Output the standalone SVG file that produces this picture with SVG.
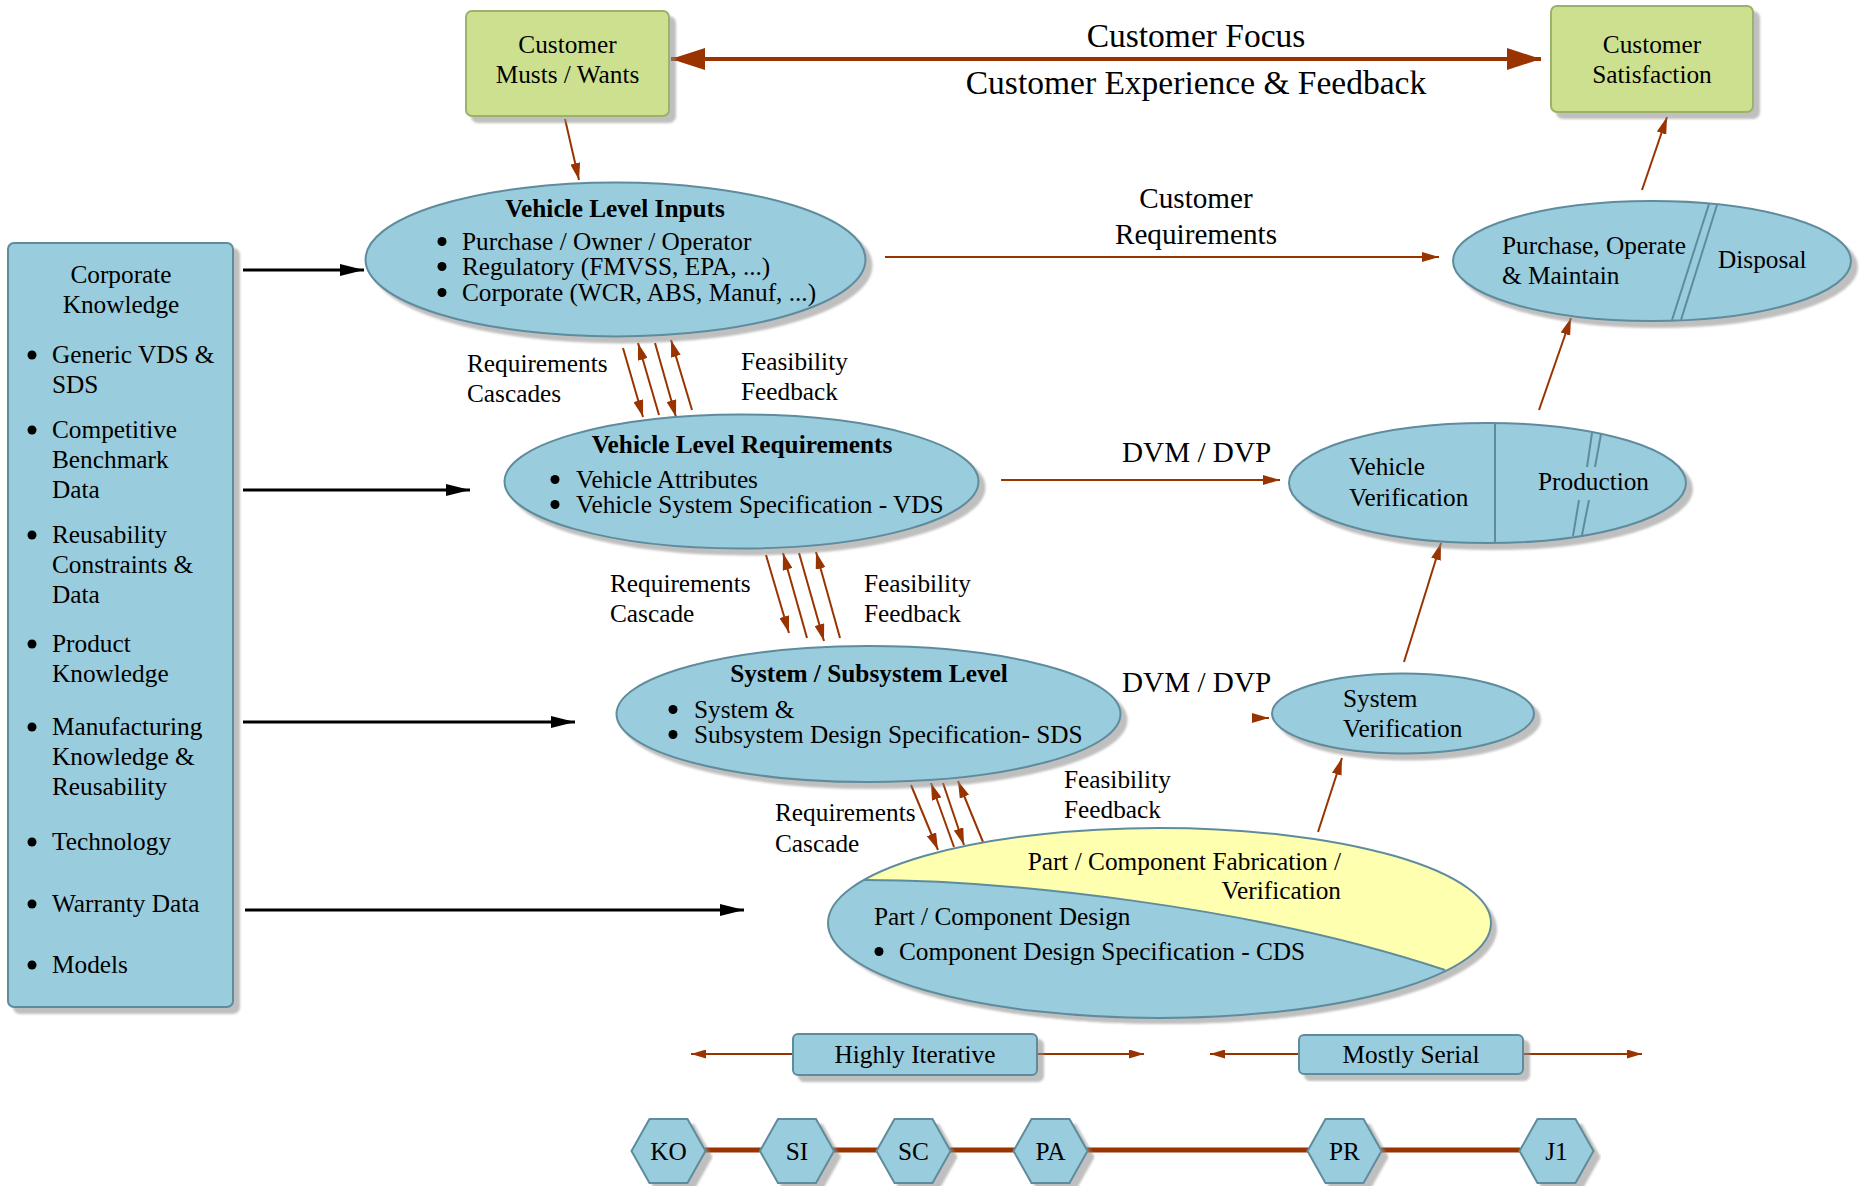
<svg xmlns="http://www.w3.org/2000/svg" xmlns:xlink="http://www.w3.org/1999/xlink" width="1860" height="1186" viewBox="0 0 1860 1186">
<style>
.n{fill:#99CCDD;stroke:#5E8C9C;stroke-width:2}
.g{fill:#CDE08F;stroke:#9CB26B;stroke-width:2}
.y{fill:#FFFFB0}
.o{fill:none;stroke:#5E8C9C;stroke-width:2}
.t{font-family:"Liberation Serif","Times New Roman",serif;font-size:25.3px;fill:#000}
.m{text-anchor:middle}
.e{text-anchor:end}
.b{font-weight:bold}
.L{font-size:29.2px}
.X{font-size:33.5px}
.c{stroke:#993300;stroke-width:2;fill:none}
.k{stroke:#000;stroke-width:3;fill:none}
.d{fill:#000}
</style>
<defs>
<filter id="sh" x="-5%" y="-5%" width="115%" height="125%">
<feDropShadow dx="6" dy="6" stdDeviation="1.2" flood-color="#8a8a8a" flood-opacity="0.55"/>
</filter>
<marker id="ao" markerUnits="userSpaceOnUse" markerWidth="17" markerHeight="10" refX="17" refY="5" orient="auto"><path d="M0,0 L17,5 L0,10 z" fill="#993300"/></marker>
<marker id="as" markerUnits="userSpaceOnUse" markerWidth="15" markerHeight="9" refX="15" refY="4.5" orient="auto-start-reverse"><path d="M0,0 L15,4.5 L0,9 z" fill="#993300"/></marker>
<marker id="ab" markerUnits="userSpaceOnUse" markerWidth="34" markerHeight="22" refX="34" refY="11" orient="auto-start-reverse"><path d="M0,0 L34,11 L0,22 z" fill="#993300"/></marker>
<marker id="ak" markerUnits="userSpaceOnUse" markerWidth="24" markerHeight="12" refX="24" refY="6" orient="auto"><path d="M0,0 L24,6 L0,12 z" fill="#000"/></marker>
<clipPath id="pc"><ellipse cx="1159.5" cy="923" rx="331.5" ry="95"/></clipPath>
<polygon id="hex" points="-37,0 -19,-32 19,-32 37,0 19,32 -19,32"/>
</defs>
<rect width="1860" height="1186" fill="#fff"/>

<g id="connectors">
<line x1="671" y1="59" x2="1541" y2="59" stroke="#993300" stroke-width="4" marker-start="url(#ab)" marker-end="url(#ab)"/>
<line class="c" x1="565" y1="119" x2="579" y2="180" marker-end="url(#ao)"/>
<line class="c" x1="885" y1="257" x2="1439" y2="257" marker-end="url(#ao)"/>
<line class="c" x1="1642" y1="190" x2="1667" y2="117" marker-end="url(#ao)"/>
<line class="c" x1="1539" y1="410" x2="1571" y2="318" marker-end="url(#ao)"/>
<line class="c" x1="1001" y1="480" x2="1280" y2="480" marker-end="url(#ao)"/>
<line class="c" x1="1404" y1="662" x2="1441" y2="543" marker-end="url(#ao)"/>
<line class="c" x1="1318" y1="832" x2="1342" y2="758" marker-end="url(#ao)"/>
<line class="c" x1="1255" y1="718" x2="1269" y2="718" marker-end="url(#ao)"/>
<line class="c" x1="623" y1="348" x2="643" y2="417" marker-end="url(#ao)"/>
<line class="c" x1="659" y1="415" x2="638" y2="343" marker-end="url(#ao)"/>
<line class="c" x1="655" y1="343" x2="676" y2="417" marker-end="url(#ao)"/>
<line class="c" x1="692" y1="410" x2="671" y2="340" marker-end="url(#ao)"/>
<line class="c" x1="766" y1="555" x2="789" y2="633" marker-end="url(#ao)"/>
<line class="c" x1="807" y1="638" x2="783" y2="553" marker-end="url(#ao)"/>
<line class="c" x1="799" y1="553" x2="824" y2="641" marker-end="url(#ao)"/>
<line class="c" x1="840" y1="638" x2="816" y2="552" marker-end="url(#ao)"/>
<line class="c" x1="911" y1="785" x2="938" y2="850" marker-end="url(#ao)"/>
<line class="c" x1="954" y1="847" x2="931" y2="783" marker-end="url(#ao)"/>
<line class="c" x1="943" y1="783" x2="964" y2="845" marker-end="url(#ao)"/>
<line class="c" x1="983" y1="842" x2="958" y2="781" marker-end="url(#ao)"/>
<line class="k" x1="243" y1="270" x2="364" y2="270" marker-end="url(#ak)"/>
<line class="k" x1="243" y1="490" x2="470" y2="490" marker-end="url(#ak)"/>
<line class="k" x1="243" y1="722" x2="575" y2="722" marker-end="url(#ak)"/>
<line class="k" x1="245" y1="910" x2="744" y2="910" marker-end="url(#ak)"/>
<line class="c" x1="793" y1="1054" x2="691" y2="1054" marker-end="url(#as)"/>
<line class="c" x1="1037" y1="1054" x2="1144" y2="1054" marker-end="url(#as)"/>
<line class="c" x1="1299" y1="1054" x2="1210" y2="1054" marker-end="url(#as)"/>
<line class="c" x1="1523" y1="1054" x2="1642" y2="1054" marker-end="url(#as)"/>
<line x1="705" y1="1150" x2="1520" y2="1150" stroke="#993300" stroke-width="5"/>
</g>

<g id="labels" class="t">
<text class="t m X" x="1196" y="47">Customer Focus</text>
<text class="t m X" x="1196" y="94">Customer Experience &amp; Feedback</text>
<text class="t m L" x="1196" y="208">Customer</text>
<text class="t m L" x="1196" y="244">Requirements</text>
<text class="t L" x="1122" y="462">DVM / DVP</text>
<text class="t L" x="1122" y="692">DVM / DVP</text>
<text class="t" x="467" y="372">Requirements</text>
<text class="t" x="467" y="402">Cascades</text>
<text class="t" x="741" y="370">Feasibility</text>
<text class="t" x="741" y="400">Feedback</text>
<text class="t" x="610" y="592">Requirements</text>
<text class="t" x="610" y="622">Cascade</text>
<text class="t" x="864" y="592">Feasibility</text>
<text class="t" x="864" y="622">Feedback</text>
<text class="t" x="775" y="821">Requirements</text>
<text class="t" x="775" y="852">Cascade</text>
<text class="t" x="1064" y="788">Feasibility</text>
<text class="t" x="1064" y="818">Feedback</text>
</g>

<g id="customer-musts">
<rect class="g" x="466" y="11" width="203" height="105" rx="6" filter="url(#sh)"/>
<text class="t m" x="567.5" y="53">Customer</text>
<text class="t m" x="567.5" y="83">Musts / Wants</text>
</g>

<g id="customer-satisfaction">
<rect class="g" x="1551" y="6" width="202" height="106" rx="6" filter="url(#sh)"/>
<text class="t m" x="1652" y="53">Customer</text>
<text class="t m" x="1652" y="83">Satisfaction</text>
</g>

<g id="corporate-knowledge">
<rect class="n" x="8" y="243" width="225" height="764" rx="6" filter="url(#sh)"/>
<text class="t m" x="121" y="283">Corporate</text>
<text class="t m" x="121" y="313">Knowledge</text>
<g class="d">
<circle cx="32" cy="355" r="4.5"/><circle cx="32" cy="430" r="4.5"/><circle cx="32" cy="535" r="4.5"/>
<circle cx="32" cy="644" r="4.5"/><circle cx="32" cy="727" r="4.5"/><circle cx="32" cy="842" r="4.5"/>
<circle cx="32" cy="904" r="4.5"/><circle cx="32" cy="965" r="4.5"/>
</g>
<text class="t" x="52" y="363">Generic VDS &amp;</text>
<text class="t" x="52" y="393">SDS</text>
<text class="t" x="52" y="438">Competitive</text>
<text class="t" x="52" y="468">Benchmark</text>
<text class="t" x="52" y="498">Data</text>
<text class="t" x="52" y="543">Reusability</text>
<text class="t" x="52" y="573">Constraints &amp;</text>
<text class="t" x="52" y="603">Data</text>
<text class="t" x="52" y="652">Product</text>
<text class="t" x="52" y="682">Knowledge</text>
<text class="t" x="52" y="735">Manufacturing</text>
<text class="t" x="52" y="765">Knowledge &amp;</text>
<text class="t" x="52" y="795">Reusability</text>
<text class="t" x="52" y="850">Technology</text>
<text class="t" x="52" y="912">Warranty Data</text>
<text class="t" x="52" y="973">Models</text>
</g>

<g id="vehicle-level-inputs">
<ellipse class="n" cx="615.5" cy="259.5" rx="250" ry="77" filter="url(#sh)"/>
<text class="t m b" x="615" y="217">Vehicle Level Inputs</text>
<g class="d"><circle cx="442" cy="241.5" r="4.5"/><circle cx="442" cy="266.5" r="4.5"/><circle cx="442" cy="292.5" r="4.5"/></g>
<text class="t" x="462" y="250">Purchase / Owner / Operator</text>
<text class="t" x="462" y="275">Regulatory (FMVSS, EPA, ...)</text>
<text class="t" x="462" y="301">Corporate (WCR, ABS, Manuf, ...)</text>
</g>

<g id="vehicle-level-requirements">
<ellipse class="n" cx="741.5" cy="481.5" rx="237" ry="67" filter="url(#sh)"/>
<text class="t m b" x="742" y="453">Vehicle Level Requirements</text>
<g class="d"><circle cx="555" cy="479.5" r="4.5"/><circle cx="555" cy="504.5" r="4.5"/></g>
<text class="t" x="576" y="488">Vehicle Attributes</text>
<text class="t" x="576" y="513">Vehicle System Specification - VDS</text>
</g>

<g id="system-subsystem-level">
<ellipse class="n" cx="868.5" cy="714" rx="252" ry="68" filter="url(#sh)"/>
<text class="t m b" x="869" y="682">System / Subsystem Level</text>
<g class="d"><circle cx="673" cy="709.5" r="4.5"/><circle cx="673" cy="734.5" r="4.5"/></g>
<text class="t" x="694" y="718">System &amp;</text>
<text class="t" x="694" y="743">Subsystem Design Specification- SDS</text>
</g>

<g id="part-component">
<g filter="url(#sh)">
<ellipse class="y" cx="1159.5" cy="923" rx="331.5" ry="95"/>
<path d="M864,880 C1000,880 1250,905 1445,970 L1500,1030 L800,1030 L800,880 Z" fill="#99CCDD" clip-path="url(#pc)"/>
</g>
<path class="o" d="M864,880 C1000,880 1250,905 1445,970"/>
<ellipse class="o" cx="1159.5" cy="923" rx="331.5" ry="95"/>
<text class="t e" x="1341" y="870">Part / Component Fabrication /</text>
<text class="t e" x="1341" y="899">Verification</text>
<text class="t" x="874" y="925">Part / Component Design</text>
<circle class="d" cx="879" cy="951.5" r="4.5"/>
<text class="t" x="899" y="960">Component Design Specification - CDS</text>
</g>

<g id="purchase-operate-disposal">
<ellipse class="n" cx="1652" cy="261" rx="199" ry="60" filter="url(#sh)"/>
<line class="o" x1="1709" y1="204" x2="1672" y2="320"/>
<line class="o" x1="1717" y1="205" x2="1681" y2="320"/>
<text class="t" x="1502" y="254">Purchase, Operate</text>
<text class="t" x="1502" y="284">&amp; Maintain</text>
<text class="t" x="1718" y="268">Disposal</text>
</g>

<g id="vehicle-verification-production">
<ellipse class="n" cx="1487.5" cy="483" rx="198.5" ry="60" filter="url(#sh)"/>
<line class="o" x1="1495" y1="423" x2="1495" y2="543"/>
<line class="o" x1="1592" y1="433" x2="1587" y2="467"/>
<line class="o" x1="1601" y1="434" x2="1595" y2="467"/>
<line class="o" x1="1579" y1="500" x2="1573" y2="536"/>
<line class="o" x1="1589" y1="500" x2="1582" y2="535"/>
<text class="t" x="1349" y="475">Vehicle</text>
<text class="t" x="1349" y="506">Verification</text>
<text class="t" x="1538" y="490">Production</text>
</g>

<g id="system-verification">
<ellipse class="n" cx="1403" cy="713.5" rx="131" ry="40" filter="url(#sh)"/>
<text class="t" x="1343" y="707">System</text>
<text class="t" x="1343" y="737">Verification</text>
</g>

<g id="highly-iterative">
<rect class="n" x="793" y="1034" width="244" height="41" rx="5" filter="url(#sh)"/>
<text class="t m" x="915" y="1063">Highly Iterative</text>
</g>
<g id="mostly-serial">
<rect class="n" x="1299" y="1035" width="224" height="39" rx="5" filter="url(#sh)"/>
<text class="t m" x="1411" y="1063">Mostly Serial</text>
</g>

<g id="ko"><use xlink:href="#hex" class="n" x="668.5" y="1151" filter="url(#sh)"/><text class="t m" x="668.5" y="1160">KO</text></g>
<g id="si"><use xlink:href="#hex" class="n" x="797" y="1151" filter="url(#sh)"/><text class="t m" x="797" y="1160">SI</text></g>
<g id="sc"><use xlink:href="#hex" class="n" x="913.5" y="1151" filter="url(#sh)"/><text class="t m" x="913.5" y="1160">SC</text></g>
<g id="pa"><use xlink:href="#hex" class="n" x="1050.5" y="1151" filter="url(#sh)"/><text class="t m" x="1050.5" y="1160">PA</text></g>
<g id="pr"><use xlink:href="#hex" class="n" x="1344.5" y="1151" filter="url(#sh)"/><text class="t m" x="1344.5" y="1160">PR</text></g>
<g id="j1"><use xlink:href="#hex" class="n" x="1556.5" y="1151" filter="url(#sh)"/><text class="t m" x="1556.5" y="1160">J1</text></g>
</svg>
